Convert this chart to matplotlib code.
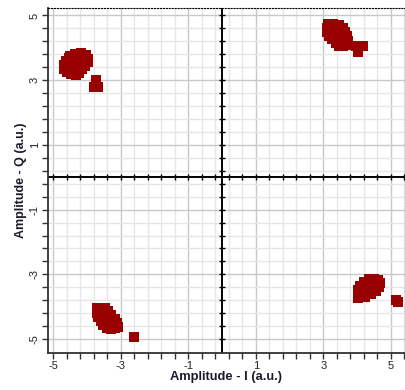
import numpy as np
import matplotlib as mpl
import matplotlib.pyplot as plt
from matplotlib.ticker import FixedLocator

# 星座図 (I/Q) のクラスタ、画像から読み取った値
# 第2象限 (左上): 輪郭 + 内部 + 離れた点
q2_i = [-4.50, -4.35, -4.18, -4.02, -3.97, -3.97, -4.07, -4.15, -4.25, -4.33,
        -4.47, -4.60, -4.68, -4.70, -4.62, -4.55,
        -4.45, -4.30, -4.15, -4.45, -4.30, -4.50, -4.35, -4.20,
        -3.73, -3.81, -3.67]
q2_q = [3.75, 3.80, 3.83, 3.78, 3.65, 3.55, 3.45, 3.35, 3.22, 3.17,
        3.19, 3.25, 3.35, 3.48, 3.58, 3.67,
        3.60, 3.65, 3.65, 3.45, 3.45, 3.32, 3.32, 3.50,
        3.00, 2.78, 2.78]

# 第1象限 (右上)
q1_i = [3.15, 3.30, 3.45, 3.57, 3.65, 3.71, 3.74, 3.68, 3.58, 3.47,
        3.37, 3.27, 3.17, 3.12, 3.10,
        3.30, 3.45, 3.35, 3.50, 3.40, 3.55, 3.60, 3.50,
        3.96, 4.17, 4.02]
q1_q = [4.74, 4.75, 4.72, 4.62, 4.50, 4.38, 4.22, 4.08, 4.06, 4.07,
        4.15, 4.27, 4.38, 4.50, 4.62,
        4.60, 4.55, 4.45, 4.40, 4.30, 4.25, 4.35, 4.20,
        4.07, 4.07, 3.88]

# 第3象限 (左下)
q3_i = [-3.70, -3.58, -3.47, -3.38, -3.28, -3.17, -3.11, -3.09, -3.17, -3.30,
        -3.42, -3.52, -3.60, -3.68, -3.72,
        -3.55, -3.45, -3.35, -3.25, -3.40, -3.50, -3.60, -3.30,
        -2.60]
q3_q = [-4.04, -4.04, -4.05, -4.14, -4.26, -4.38, -4.50, -4.62, -4.67, -4.69,
        -4.66, -4.56, -4.45, -4.32, -4.18,
        -4.20, -4.30, -4.40, -4.50, -4.55, -4.40, -4.30, -4.60,
        -4.95]

# 第4象限 (右下)
q4_i = [4.35, 4.50, 4.62, 4.67, 4.66, 4.55, 4.42, 4.22, 4.02, 4.02,
        4.02, 4.10, 4.20,
        4.35, 4.50, 4.30, 4.45, 4.20, 4.35,
        5.15, 5.20]
q4_q = [-3.13, -3.13, -3.17, -3.28, -3.40, -3.52, -3.62, -3.70, -3.74, -3.60,
        -3.48, -3.35, -3.25,
        -3.30, -3.30, -3.45, -3.45, -3.55, -3.55,
        -3.80, -3.86]

major_ticks = [-5, -3, -1, 1, 3, 5]

mpl.rcParams['font.family'] = 'Liberation Sans'
mpl.rcParams['axes.unicode_minus'] = False
color_pts = '#990000'

fig = plt.figure(figsize=(4.06, 3.90), dpi=100)
ax = fig.add_axes([48 / 406, 37.3 / 390, 357 / 406, 344.7 / 390])

for xi, yq in [(q1_i, q1_q), (q2_i, q2_q), (q3_i, q3_q), (q4_i, q4_q)]:
    ax.plot(xi, yq, ls='none', marker='s', ms=7, mew=0, color=color_pts, zorder=3)

ax.set_xlim(-5.16, 5.42)
ax.set_ylim(-5.42, 5.23)

minor_ticks = np.arange(-5, 5.5, 0.4)
for axis in [ax.xaxis, ax.yaxis]:
    axis.set_major_locator(FixedLocator(major_ticks))
    axis.set_minor_locator(FixedLocator(minor_ticks))

ax.grid(which='major', color='#c8c8c8', lw=1.0, zorder=0)
ax.grid(which='minor', color='#e6e6e6', lw=1.0, zorder=0)
ax.set_axisbelow(True)

# 中央の軸線と目盛り
ax.axhline(0, color='black', lw=1.4, zorder=2)
ax.axvline(0, color='black', lw=1.4, zorder=2)
ax.plot(minor_ticks, np.zeros_like(minor_ticks), ls='none', marker='|', ms=5, mew=1.0, color='black', zorder=2)
ax.plot(np.zeros_like(minor_ticks), minor_ticks, ls='none', marker='_', ms=5, mew=1.0, color='black', zorder=2)

for side in ['top', 'right']:
    ax.spines[side].set_linestyle(':')
    ax.spines[side].set_linewidth(0.8)
for side in ['left', 'bottom']:
    ax.spines[side].set_color('#333333')
    ax.spines[side].set_linewidth(1.3)

ax.tick_params(which='both', direction='out', length=4, width=1.0, color='#333333')
ax.tick_params(axis='both', labelsize=8, colors='#333333', labelcolor='#222222', pad=2)
ax.tick_params(axis='y', labelrotation=90)
for lab in ax.get_yticklabels():
    lab.set_va('center')

ax.set_xlabel('Amplitude - I (a.u.)', fontsize=9.3, fontweight='bold', color='#1a1a2e', labelpad=0)
ax.set_ylabel('Amplitude - Q (a.u.)', fontsize=9.0, fontweight='bold', color='#1a1a2e', labelpad=2)

fig.savefig('out.png', dpi=100)
